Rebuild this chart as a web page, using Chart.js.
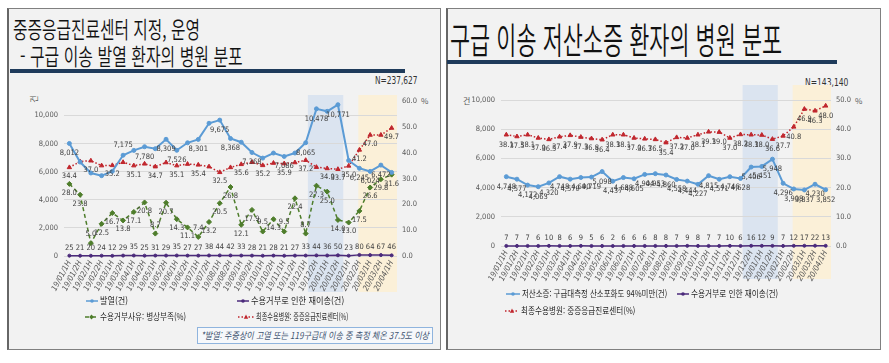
<!DOCTYPE html>
<html lang="ko">
<head>
<meta charset="utf-8">
<script src="https://cdn.jsdelivr.net/npm/chart.js@4.4.1/dist/chart.umd.min.js"></script>
<style>
body{margin:0;width:889px;height:363px;background:#fff;position:relative;overflow:hidden;font-family:"Noto Sans CJK KR","Noto Sans",sans-serif;font-weight:400;color:#1a1a1a}
.panel{position:absolute;background:#f2f2f2;border:1px solid #808080;border-left:2px solid #666;box-sizing:border-box}
.t{position:absolute;white-space:nowrap;transform-origin:0 50%}
.title{font-family:"Noto Sans CJK KR DemiLight","Noto Sans CJK KR Light","Noto Sans CJK KR",sans-serif;font-weight:300;color:#111}
.rule{position:absolute;background:#1f3b5b}
.num{font-family:"Liberation Sans Narrow","DejaVu Sans Condensed","Liberation Sans",sans-serif;font-weight:400}
.note{position:absolute;border:1px solid #8fb4de;background:#f6f8fb;box-sizing:border-box}
.mk{position:absolute;height:8px;line-height:0}
.mk svg{display:block}
canvas{position:absolute}
</style>
</head>
<body>

<div class="panel" style="left:7px;top:8px;width:434px;height:342px"></div>
<div class="panel" style="left:446px;top:8px;width:435px;height:342px"></div>

<div class="t title" style="left:13px;top:17px;font-size:23px;line-height:23px" data-w="187">중증응급진료센터 지정, 운영</div>
<div class="t title" style="left:20px;top:44px;font-size:23px;line-height:23px" data-w="223">- 구급 이송 발열 환자의 병원 분포</div>
<div class="rule" style="left:10px;top:69px;width:395px;height:4px"></div>
<div class="t num" style="left:375px;top:76px;font-size:10px;line-height:10px;color:#333" data-w="42">N=237,627</div>

<div class="t title" style="left:450px;top:20px;font-size:36px;line-height:36px" data-w="332">구급 이송 저산소증 환자의 병원 분포</div>
<div class="rule" style="left:447px;top:60px;width:390px;height:4px"></div>
<div class="t num" style="left:805px;top:78px;font-size:10px;line-height:10px;color:#333" data-w="43">N=143,140</div>

<div class="t" style="left:30px;top:95px;font-size:8px;line-height:8px;color:#595959;transform:rotate(-90deg);transform-origin:50% 50%">건</div>
<div class="t" style="left:421px;top:97px;font-size:8px;line-height:8px;color:#595959">%</div>
<div class="t" style="left:463px;top:97px;font-size:8px;line-height:8px;color:#595959">건</div>
<div class="t" style="left:855px;top:97px;font-size:8px;line-height:8px;color:#595959">%</div>

<canvas id="feverChart" width="412" height="208" style="left:20px;top:88px"></canvas>
<canvas id="hypoxiaChart" width="398" height="206" style="left:455px;top:80px"></canvas>

<div class="note" style="left:197px;top:327px;width:236px;height:17px"></div>
<div class="t" style="left:201px;top:330px;font-size:9.5px;line-height:10px;font-style:italic;color:#3f5471" data-w="228">*발열: 주증상이 고열 또는 119구급대 이송 중 측정 체온 37.5도 이상</div>

<div id="legends"></div>

<script>
// ===============================
// Data
// ===============================

const periods = [
'19/01/1H','19/01/2H','19/02/1H','19/02/2H','19/03/1H','19/03/2H','19/04/1H','19/04/2H',
'19/05/1H','19/05/2H','19/06/1H','19/06/2H','19/07/1H','19/07/2H','19/08/1H','19/08/2H',
'19/09/1H','19/09/2H','19/10/1H','19/10/2H','19/11/1H','19/11/2H','19/12/1H','19/12/2H',
'20/01/1H','20/01/2H','20/02/1H','20/02/2H','20/03/1H','20/03/2H','20/04/1H'
];

// left axis ticks (counts)
const countTicks = [0,2000,4000,6000,8000,10000];

// left: fever patients
const feverCases = [8012,6690,5910,5720,6030,7175,7520,7780,7640,8309,7526,8060,8301,9450,9675,8368,8100,7368,6970,7330,7086,7330,8065,10478,10300,10771,6800,6245,6024,6472,5950];
const feverRetransfer = [25,21,20,24,12,29,35,25,31,29,35,27,27,38,44,42,33,28,21,28,21,27,33,44,36,50,23,80,64,67,46];
const bedShortagePct = [28.0,23.8,5.0,12.5,16.7,13.8,17.1,20.8,8.7,20.7,14.3,11.1,7.4,13.2,20.5,26.8,12.1,17.9,9.5,14.3,9.5,22.4,8.7,27.3,25.0,14.0,13.0,17.5,26.6,29.8,31.6];
const feverCenterPct = [34.4,36.7,37.0,35.1,35.2,36.4,35.1,35.8,34.7,36.3,35.1,35.7,35.4,34.7,32.5,34.4,35.6,36.4,35.2,36.1,35.9,36.3,37.2,34.5,34.0,33.7,35.0,41.2,47.0,47.0,49.7];

// right: hypoxia patients
const hypoxiaCases = [4748,4577,4172,4063,4320,4748,4579,4690,4719,5098,4437,4688,4605,4904,4953,4860,4558,4444,4227,4815,4571,4746,4628,5406,5451,5948,4296,3908,3837,4230,3852];
const hypoxiaRetransfer = [7,7,7,6,10,8,6,9,5,6,2,6,6,6,8,8,7,9,8,7,7,10,6,16,12,9,7,12,17,22,13];
const hypoxiaCenterPct = [38.1,37.5,38.1,37.0,36.5,37.4,37.9,37.3,36.8,36.4,38.1,38.1,37.0,36.7,36.5,35.4,37.2,37.0,38.1,39.1,39.0,37.0,38.2,38.1,38.0,36.6,37.7,40.8,46.9,46.3,48.0];

// which points carry a value label in the left chart
const feverLabelIdx = [0,5,7,9,10,12,14,15,17,20,22,23,25,27,28,29];
const feverCenterLabelIdx = [0,2,4,6,8,10,12,14,16,18,20,22,24,25,26,27,28,30];


// ===============================
// Styles / helpers
// ===============================

const NARROW = '"Liberation Sans Narrow","DejaVu Sans Condensed","Liberation Sans",sans-serif';
const BLUE = '#5b9bd5', PURPLE = '#4b2a7b', GREEN = '#4e7d2b', RED = '#c0262d';

const cnt = v => v.toLocaleString('en-US');
const pct = v => v.toFixed(1);

// shaded periods
const shadePlugin = {
id:'shade',
beforeDraw(chart, args, opts){
const {ctx, chartArea, scales:{x}} = chart;
ctx.save();
opts.bands.forEach(b => {
const x0 = x.getPixelForValue(b.from), x1 = x.getPixelForValue(b.to);
ctx.fillStyle = b.color;
ctx.fillRect(x0, chartArea.top - opts.above, x1 - x0, chartArea.bottom - chartArea.top + opts.above + opts.below);
});
ctx.restore();
}
};

// value labels next to points
const valuePlugin = {
id:'values',
afterDatasetsDraw(chart){
const ctx = chart.ctx;
ctx.save();
ctx.font = '7.5px ' + NARROW;
ctx.fillStyle = '#404040';
ctx.textAlign = 'center';
ctx.textBaseline = 'middle';
chart.data.datasets.forEach((ds, di) => {
const t = ds.tags;
if(!t) return;
chart.getDatasetMeta(di).data.forEach((pt, i) => {
if(t.show && !t.show.includes(i)) return;
const dy = (t.flip && t.flip.includes(i)) ? -t.dy : t.dy;
ctx.fillText(t.fmt(ds.data[i]), pt.x, pt.y + dy);
});
});
ctx.restore();
}
};

function series(label, data, axis, color, extra){
return Object.assign({
label:label, data:data, yAxisID:axis,
borderColor:color, backgroundColor:color,
pointBackgroundColor:color, pointBorderColor:color,
borderWidth:1.5, pointRadius:2, pointBorderWidth:1,
tension:0, clip:false
}, extra);
}

function tickFont(){ return {family:NARROW, size:7.5}; }

function scales(leftMax, rightMax, leftW, rightW){
return {
x:{
offset:true,
grid:{display:false, drawTicks:false},
border:{display:false},
ticks:{autoSkip:false, minRotation:62, maxRotation:62, padding:3, color:'#595959', font:{family:NARROW, size:8, style:'italic'}},
afterFit: s => { s.height = 40; }
},
y:{
position:'left', min:0, max:leftMax,
grid:{color:'#d9d9d9', drawTicks:false},
border:{display:false},
ticks:{padding:6, color:'#595959', font:tickFont(), callback: v => cnt(v)},
afterBuildTicks: s => { s.ticks = countTicks.map(v => ({value:v})); },
afterFit: s => { s.width = leftW; }
},
y1:{
position:'right', min:0, max:rightMax,
grid:{display:false, drawTicks:false},
border:{display:false},
ticks:{stepSize:10, padding:5, color:'#595959', font:tickFont(), callback: v => pct(v)},
afterFit: s => { s.width = rightW; }
}
};
}

const bands = [
{from:22.2, to:25.5, color:'#dbe4f0'},
{from:26.9, to:30.5, color:'#fbf0d8'}
];


// ===============================
// Left: fever chart
// ===============================

const feverChart = new Chart(document.getElementById('feverChart'),{
type:'line',
data:{
labels:periods,
datasets:[
series('발열(건)', feverCases, 'y', BLUE, {borderWidth:2, tags:{dy:10, show:feverLabelIdx, flip:[5], fmt:cnt}}),
series('수용거부로 인한 재이송(건)', feverRetransfer, 'y', PURPLE, {pointRadius:1.5, tags:{dy:-8, fmt:cnt}}),
series('수용거부사유: 병상부족(%)', bedShortagePct, 'y1', GREEN, {borderDash:[4,3], pointStyle:'rectRot', pointRadius:2.5, tags:{dy:9, flip:[2,8,12,18,20,22], fmt:pct}}),
series('최종수용병원: 중증응급진료센터(%)', feverCenterPct, 'y1', RED, {borderDash:[1.5,2], pointStyle:'triangle', pointRadius:2.5, tags:{dy:9, show:feverCenterLabelIdx, fmt:pct}})
]
},
options:{
responsive:false, animation:false,
layout:{padding:{top:13.5, left:0, right:0, bottom:0}},
scales:scales(11000, 60, 44, 35),
plugins:{legend:{display:false}, tooltip:{enabled:false}, shade:{bands:bands, above:6.5, below:36}}
},
plugins:[shadePlugin, valuePlugin]
});


// ===============================
// Right: hypoxia chart
// ===============================

const hypoxiaChart = new Chart(document.getElementById('hypoxiaChart'),{
type:'line',
data:{
labels:periods,
datasets:[
series('저산소증: 구급대측정 산소포화도 94%미만(건)', hypoxiaCases, 'y', BLUE, {borderWidth:2, tags:{dy:10, fmt:cnt}}),
series('수용거부로 인한 재이송(건)', hypoxiaRetransfer, 'y', PURPLE, {pointRadius:1.5, tags:{dy:-8, fmt:cnt}}),
series('최종수용병원: 중증응급진료센터(%)', hypoxiaCenterPct, 'y1', RED, {borderDash:[1.5,2], pointStyle:'triangle', pointRadius:2.5, tags:{dy:10, fmt:pct}})
]
},
options:{
responsive:false, animation:false,
layout:{padding:{top:20, left:0, right:0, bottom:0}},
scales:scales(10000, 50, 46, 22),
plugins:{legend:{display:false}, tooltip:{enabled:false}, shade:{bands:bands, above:15, below:33}}
},
plugins:[shadePlugin, valuePlugin]
});


// ===============================
// Legends (built from the datasets)
// ===============================

function markerSvg(ds, w){
const dash = ds.borderDash ? ds.borderDash.join(',') : 'none';
const c = ds.borderColor, m = w / 2;
let shape = '<circle cx="'+m+'" cy="4" r="1.8" fill="'+c+'"/>';
if(ds.pointStyle === 'triangle') shape = '<polygon points="'+(m-2.2)+',5.8 '+(m+2.2)+',5.8 '+m+',1.6" fill="'+c+'"/>';
if(ds.pointStyle === 'rectRot') shape = '<polygon points="'+m+',1.6 '+(m+2.3)+',4 '+m+',6.4 '+(m-2.3)+',4" fill="'+c+'"/>';
return '<svg width="'+w+'" height="8"><line x1="0" y1="4" x2="'+w+'" y2="4" stroke="'+c+'" stroke-width="1.5" stroke-dasharray="'+dash+'"/>'+shape+'</svg>';
}

function addLegend(chart, items){
const box = document.getElementById('legends');
items.forEach(it => {
const ds = chart.data.datasets[it.ds];
const mk = document.createElement('div');
mk.className = 'mk';
mk.style.left = it.x + 'px';
mk.style.top = (it.y - 4) + 'px';
mk.innerHTML = markerSvg(ds, it.mw);
box.appendChild(mk);
const tx = document.createElement('div');
tx.className = 't';
tx.style.cssText = 'left:'+(it.x+it.mw+2)+'px;top:'+(it.y-5)+'px;font-size:9px;line-height:9px;color:#262626';
tx.dataset.w = it.tw;
tx.textContent = ds.label;
box.appendChild(tx);
});
}

addLegend(feverChart,[
{ds:0, x:86, y:301, mw:12, tw:28},
{ds:1, x:237, y:301, mw:12, tw:93},
{ds:2, x:85, y:317, mw:13, tw:86},
{ds:3, x:238, y:317, mw:16, tw:92}
]);

addLegend(hypoxiaChart,[
{ds:0, x:506, y:294, mw:14, tw:145},
{ds:1, x:677, y:294, mw:12, tw:87},
{ds:2, x:505, y:311, mw:14, tw:114}
]);

// squeeze text to the widths of the reference
document.querySelectorAll('[data-w]').forEach(el => {
const nat = el.offsetWidth;
if(nat > 0) el.style.transform = 'scaleX(' + (parseFloat(el.dataset.w) / nat) + ')';
});
</script>
</body>
</html>
